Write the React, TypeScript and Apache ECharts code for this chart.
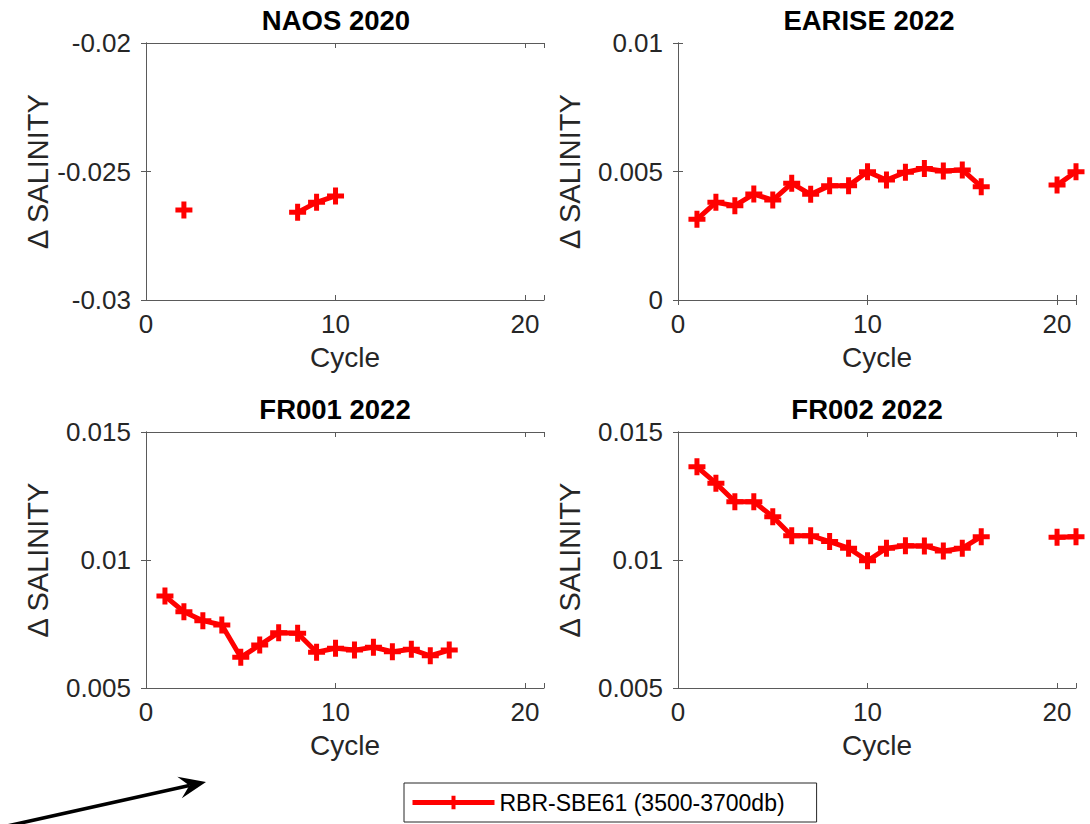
import React, { useEffect, useRef } from "react";
import * as echarts from "echarts";

const cycles = [1, 2, 3, 4, 5, 6, 7, 8, 9, 10, 11, 12, 13, 14, 15, 16, 17, 18, 19, 20, 21];

const naos2020 = [null, -0.0265, null, null, null, null, null, -0.02659, -0.0262, -0.02595, null, null, null, null, null, null, null, null, null, null, null];
const earise2022 = [0.00314, 0.0038, 0.00367, 0.00412, 0.00389, 0.00454, 0.00411, 0.00445, 0.00445, 0.00499, 0.00467, 0.00497, 0.00512, 0.00502, 0.00506, 0.00441, null, null, null, 0.00447, 0.00499];
const fr001_2022 = [0.00859, 0.00798, 0.00763, 0.00746, 0.0062, 0.00668, 0.00716, 0.00714, 0.0064, 0.00655, 0.00648, 0.00659, 0.00642, 0.00651, 0.00626, 0.00648, null, null, null, null, null];
const fr002_2022 = [0.01364, 0.013, 0.01228, 0.01228, 0.01169, 0.01095, 0.01095, 0.01072, 0.01046, 0.00997, 0.01046, 0.01056, 0.01055, 0.01035, 0.01046, 0.01091, null, null, null, 0.01089, 0.01091];

const panelTitles = ["NAOS 2020", "EARISE 2022", "FR001 2022", "FR002 2022"];
const panelData = [naos2020, earise2022, fr001_2022, fr002_2022];
const yMins = [-0.03, 0, 0.005, 0.005];
const yMaxs = [-0.02, 0.01, 0.015, 0.015];
const yStep = 0.005;
const xMin = 0;
const xMax = 21;
const xStep = 10;
const seriesName = "RBR-SBE61 (3500-3700db)";
const xLabel = "Cycle";
const yLabel = "\u0394 SALINITY";

const FONT = "'Liberation Sans', Arial, Helvetica, sans-serif";
const TXT = "#262626";
const AX = "#5a5a5a";
const RED = "#ff0000";
const PLUS = "path://M0,6H6V0H11V6H17V11H11V17H6V11H0Z";

const grids = [
  { left: 146, top: 43, width: 398, height: 257 },
  { left: 678, top: 43, width: 398, height: 257 },
  { left: 146, top: 432, width: 398, height: 256 },
  { left: 678, top: 432, width: 398, height: 256 },
];
const titleCenters = [
  { x: 331, y: 1 },
  { x: 864, y: 1 },
  { x: 330, y: 390 },
  { x: 862, y: 390 },
];

function fmtY(v: number) {
  return String(parseFloat(v.toFixed(4)));
}

export default function App() {
  const ref = useRef<HTMLDivElement>(null);
  useEffect(() => {
    document.body.style.margin = "0";
    const chart = echarts.init(ref.current!, null, { renderer: "svg" });
    const xAxis: any[] = [];
    const yAxis: any[] = [];
    const series: any[] = [];
    grids.forEach((g, i) => {
      xAxis.push({
        type: "value",
        gridIndex: i,
        position: "bottom",
        min: xMin,
        max: xMax,
        interval: xStep,
        name: xLabel,
        nameLocation: "middle",
        nameGap: 43,
        nameTextStyle: { fontFamily: FONT, fontSize: 28, color: TXT },
        axisLine: { show: true, lineStyle: { color: AX, width: 1 } },
        axisTick: { show: true, inside: true, length: 5, lineStyle: { color: AX } },
        splitLine: { show: false },
        axisLabel: {
          fontFamily: FONT,
          fontSize: 26,
          color: TXT,
          margin: 11,
          formatter: (v: number) => (v % xStep === 0 ? String(v) : ""),
        },
      });
      xAxis.push({
        type: "value",
        gridIndex: i,
        position: "top",
        min: xMin,
        max: xMax,
        interval: xStep,
        axisLine: { show: true, lineStyle: { color: AX, width: 1 } },
        axisTick: { show: true, inside: true, length: 5, lineStyle: { color: AX } },
        splitLine: { show: false },
        axisLabel: { show: false },
      });
      yAxis.push({
        type: "value",
        gridIndex: i,
        position: "left",
        min: yMins[i],
        max: yMaxs[i],
        interval: yStep,
        name: yLabel,
        nameLocation: "middle",
        nameRotate: 90,
        nameGap: 94,
        nameTextStyle: { fontFamily: FONT, fontSize: 29, color: TXT },
        axisLine: { show: true, lineStyle: { color: AX, width: 1 } },
        axisTick: { show: true, inside: true, length: 5, lineStyle: { color: AX } },
        splitLine: { show: false },
        axisLabel: { fontFamily: FONT, fontSize: 26, color: TXT, margin: 15, formatter: fmtY },
      });
      yAxis.push({
        type: "value",
        gridIndex: i,
        position: "right",
        min: yMins[i],
        max: yMaxs[i],
        interval: yStep,
        axisLine: { show: true, lineStyle: { color: AX, width: 1 } },
        axisTick: { show: true, inside: true, length: 5, lineStyle: { color: AX } },
        splitLine: { show: false },
        axisLabel: { show: false },
      });
      series.push({
        name: seriesName,
        type: "line",
        xAxisIndex: 2 * i,
        yAxisIndex: 2 * i,
        data: cycles.map((c, k) => [c, panelData[i][k] == null ? "-" : panelData[i][k]]),
        connectNulls: false,
        clip: false,
        symbol: PLUS,
        symbolSize: 17,
        showSymbol: true,
        itemStyle: { color: RED },
        lineStyle: { color: RED, width: 5 },
      });
    });

    // arrow geometry
    const tip = [206, 782];
    const ux = 0.979, uy = -0.204;
    const nx = 0.204, ny = 0.979;
    const bx = tip[0] - 27 * ux, by = tip[1] - 27 * uy;
    const notch = [tip[0] - 17 * ux, tip[1] - 17 * uy];

    chart.setOption({
      animation: false,
      backgroundColor: "#ffffff",
      title: panelTitles.map((t, i) => ({
        text: t,
        left: titleCenters[i].x,
        top: titleCenters[i].y,
        textAlign: "center",
        textStyle: { fontFamily: FONT, fontSize: 27.5, fontWeight: "bold", color: "#000" },
      })),
      grid: grids,
      xAxis,
      yAxis,
      series,
      legend: {
        data: [seriesName],
        left: 404,
        top: 783,
        orient: "horizontal",
        itemWidth: 82,
        itemHeight: 17,
        itemGap: 4,
        padding: [8, 32, 8, 6],
        borderColor: "#262626",
        borderWidth: 1,
        backgroundColor: "#fff",
        lineStyle: { width: 5 },
        textStyle: { fontFamily: FONT, fontSize: 23, color: "#000" },
      },
      graphic: [
        {
          type: "line",
          shape: { x1: 5, y1: 826.5, x2: notch[0], y2: notch[1] },
          style: { stroke: "#000", lineWidth: 3.6 },
        },
        {
          type: "polygon",
          shape: {
            points: [
              tip,
              [bx - 11 * nx, by - 11 * ny],
              notch,
              [bx + 11 * nx, by + 11 * ny],
            ],
          },
          style: { fill: "#000" },
        },
      ],
    });
    return () => chart.dispose();
  }, []);
  return <div ref={ref} style={{ width: 1090, height: 824 }} />;
}
